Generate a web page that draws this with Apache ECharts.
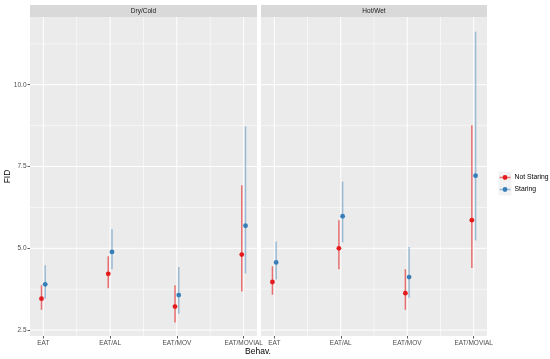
<!DOCTYPE html>
<html><head><meta charset="utf-8">
<script src="https://cdn.jsdelivr.net/npm/echarts@6/dist/echarts.min.js"></script>
<style>html,body{margin:0;padding:0;background:#fff}#c{width:550px;height:359px}</style>
</head><body><div id="c"></div>
<script>
const categories = ['EAT','EAT/AL','EAT/MOV','EAT/MOVIAL'];
const panels = ['Dry/Cold','Hot/Wet'];
const groups = ['Not Staring','Staring'];
const yTicks = [2.5, 5.0, 7.5, 10.0];
const yMinorTicks = [3.75, 6.25, 8.75, 11.25];
// Dry/Cold
const dryNotMean  = [3.46, 4.22, 3.22, 4.81];
const dryNotLow   = [3.12, 3.78, 2.73, 3.68];
const dryNotHigh  = [3.87, 4.76, 3.87, 6.93];
const dryStarMean = [3.90, 4.89, 3.57, 5.69];
const dryStarLow  = [3.46, 4.36, 3.00, 4.23];
const dryStarHigh = [4.48, 5.58, 4.43, 8.73];
// Hot/Wet
const hotNotMean  = [3.97, 5.00, 3.63, 5.86];
const hotNotLow   = [3.58, 4.36, 3.12, 4.40];
const hotNotHigh  = [4.45, 5.86, 4.36, 8.76];
const hotStarMean = [4.57, 5.98, 4.12, 7.22];
const hotStarLow  = [4.05, 5.18, 3.49, 5.24];
const hotStarHigh = [5.20, 7.04, 5.04, 11.62];

const colors = ['#E41A1C', '#377EB8'];
const lineColors = ['rgba(228,26,28,0.6)', 'rgba(55,126,184,0.45)'];
const dodge = [-0.028, 0.028];
const FONT = 'Liberation Sans, Arial, sans-serif';

const panelData = [
  [[dryNotMean, dryNotLow, dryNotHigh], [dryStarMean, dryStarLow, dryStarHigh]],
  [[hotNotMean, hotNotLow, hotNotHigh], [hotStarMean, hotStarLow, hotStarHigh]]
];

const gridBox = [{left: 30, width: 227}, {left: 261, width: 226}];
const TOP = 17, HEIGHT = 319;
const catIdx = categories.map((c, i) => i + 1);
const xMinor = [1.5, 2.5, 3.5];

const grids = [], xAxes = [], yAxes = [], series = [], graphics = [];
gridBox.forEach((g, p) => {
  grids.push({left: g.left, top: TOP, width: g.width, height: HEIGHT, show: true,
    backgroundColor: '#EBEBEB', borderWidth: 0, containLabel: false, outerBoundsMode: 'none'});
  xAxes.push({type: 'value', gridIndex: p, min: 0.8, max: 4.2,
    axisLine: {show: false}, splitLine: {show: false},
    axisTick: {show: true, length: 2.5, lineStyle: {color: '#333', width: 0.8}, customValues: catIdx},
    axisLabel: {show: true, customValues: catIdx, margin: 4, fontSize: 6.5, color: '#4D4D4D', fontFamily: FONT,
      formatter: v => categories[Math.round(v) - 1] || ''}});
  yAxes.push({type: 'value', gridIndex: p, min: 2.32, max: 12.07,
    axisLine: {show: false}, splitLine: {show: false},
    axisTick: {show: p === 0, length: 2.5, lineStyle: {color: '#333', width: 0.8}, customValues: yTicks},
    axisLabel: {show: p === 0, customValues: yTicks, margin: 3.5, fontSize: 6.5, color: '#4D4D4D', fontFamily: FONT,
      formatter: v => v.toFixed(1)}});
  // grid lines
  const gl = [];
  yMinorTicks.forEach(v => gl.push(['y', v, 0.55]));
  yTicks.forEach(v => gl.push(['y', v, 1.0]));
  xMinor.forEach(v => gl.push(['x', v, 0.55]));
  catIdx.forEach(v => gl.push(['x', v, 1.0]));
  series.push({type: 'custom', xAxisIndex: p, yAxisIndex: p, silent: true, z: 1,
    data: gl.map(d => [d[0] === 'x' ? d[1] : 1, d[0] === 'y' ? d[1] : 3]),
    renderItem: (params, api) => {
      const cs = params.coordSys;
      const item = gl[params.dataIndex];
      let shape;
      if (item[0] === 'y') {
        const y = api.coord([1, item[1]])[1];
        shape = {x1: cs.x, y1: y, x2: cs.x + cs.width, y2: y};
      } else {
        const x = api.coord([item[1], 3])[0];
        shape = {x1: x, y1: cs.y, x2: x, y2: cs.y + cs.height};
      }
      return {type: 'line', shape, style: {stroke: '#FFFFFF', lineWidth: item[2]}};
    }});
  panelData[p].forEach((grp, s) => {
    const [mean, low, high] = grp;
    const eb = categories.map((c, i) => [i + 1 + dodge[s], low[i], high[i]]);
    series.push({type: 'custom', xAxisIndex: p, yAxisIndex: p, silent: true, z: 3,
      data: eb,
      renderItem: (params, api) => {
        const a = api.coord([api.value(0), api.value(1)]);
        const b = api.coord([api.value(0), api.value(2)]);
        return {type: 'line', shape: {x1: a[0], y1: a[1], x2: b[0], y2: b[1]},
          style: {stroke: lineColors[s], lineWidth: 1.5}};
      }});
    series.push({type: 'scatter', name: groups[s], xAxisIndex: p, yAxisIndex: p, z: 4,
      symbol: 'circle', symbolSize: 4.8, itemStyle: {color: colors[s], opacity: 1},
      data: categories.map((c, i) => [i + 1 + dodge[s], mean[i]])});
  });
  graphics.push({type: 'rect', shape: {x: g.left, y: 5, width: g.width, height: 12}, style: {fill: '#D9D9D9'}, silent: true});
  graphics.push({type: 'text', x: g.left + g.width / 2, y: 11, style: {text: panels[p], fill: '#1A1A1A', fontSize: 6.5,
    fontFamily: FONT, align: 'center', verticalAlign: 'middle'}, silent: true});
});

graphics.push({type: 'text', x: 258, y: 352, style: {text: 'Behav.', fill: '#000', fontSize: 8.5, fontFamily: FONT,
  align: 'center', verticalAlign: 'middle'}});
graphics.push({type: 'text', x: 8, y: 176.5, rotation: Math.PI / 2, style: {text: 'FID', fill: '#000', fontSize: 8.5,
  fontFamily: FONT, align: 'center', verticalAlign: 'middle'}});
// legend
const legY = [177.5, 189.5];
groups.forEach((name, s) => {
  graphics.push({type: 'rect', shape: {x: 498.5, y: legY[s] - 6, width: 13, height: 12}, style: {fill: '#F2F2F2'}});
  graphics.push({type: 'line', shape: {x1: 499.5, y1: legY[s], x2: 510.5, y2: legY[s]}, style: {stroke: lineColors[s], lineWidth: 1.5}});
  graphics.push({type: 'circle', shape: {cx: 505, cy: legY[s], r: 2.4}, style: {fill: colors[s]}});
  graphics.push({type: 'text', x: 514.5, y: legY[s], style: {text: name, fill: '#000', fontSize: 6.8, fontFamily: FONT,
    align: 'left', verticalAlign: 'middle'}});
});

const chart = echarts.init(document.getElementById('c'), null, {renderer: 'canvas'});
chart.setOption({
  animation: false,
  backgroundColor: '#FFFFFF',
  grid: grids, xAxis: xAxes, yAxis: yAxes, series: series, graphic: graphics
});
</script>
</body></html>
